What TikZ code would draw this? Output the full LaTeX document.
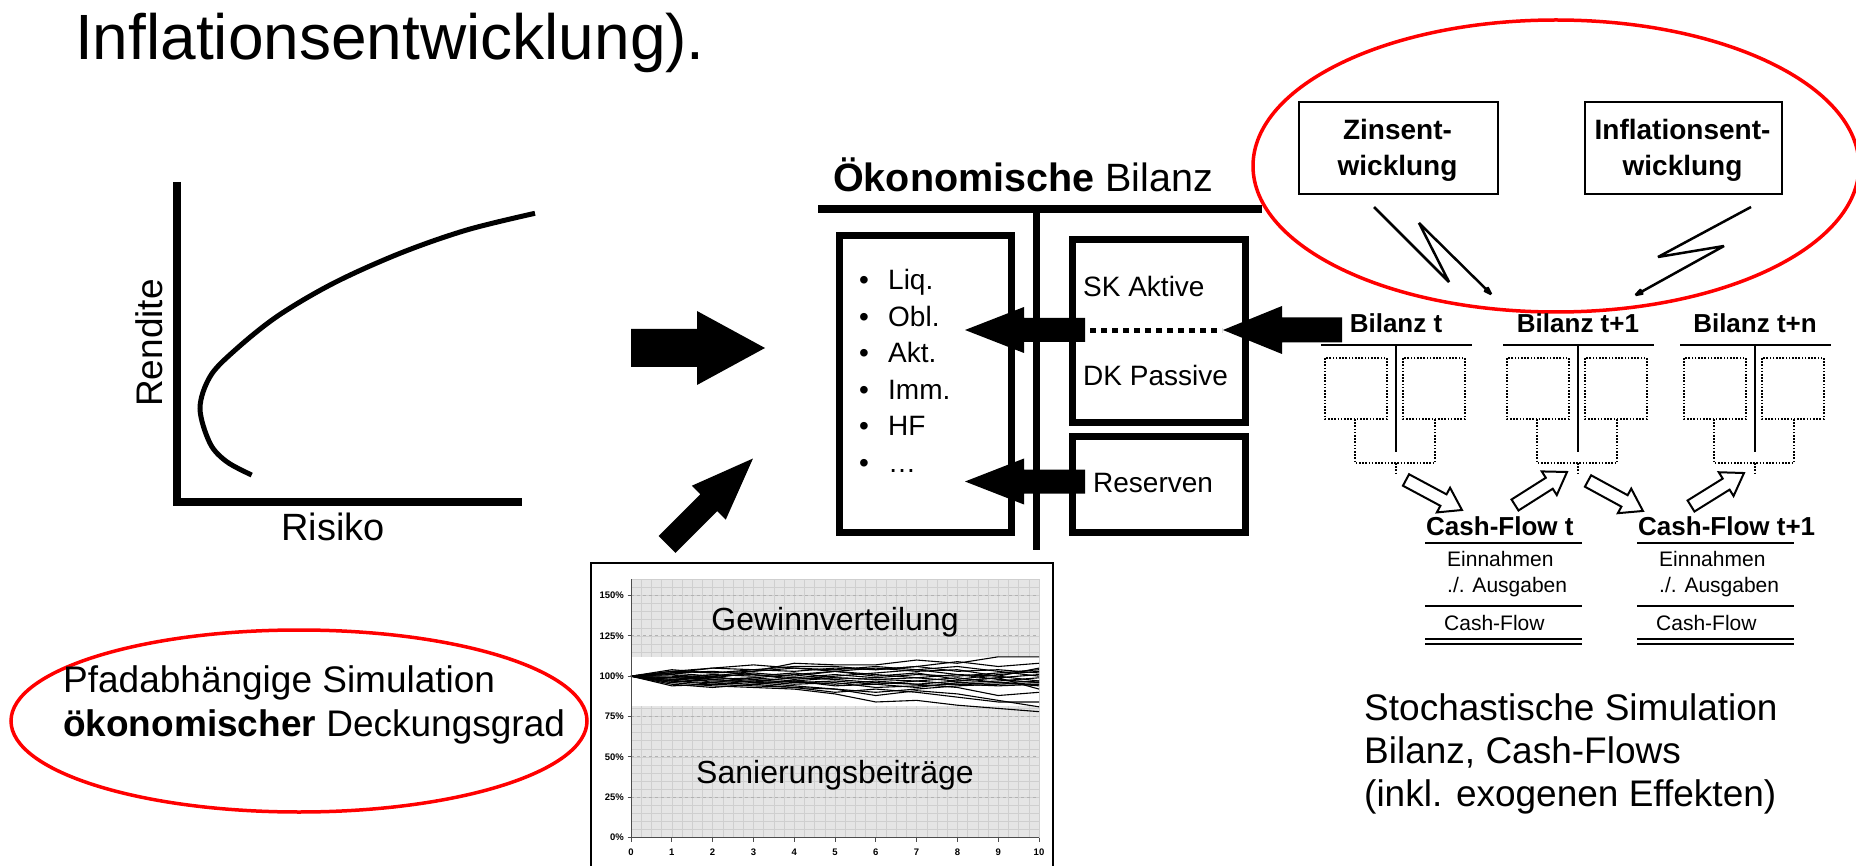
\documentclass[tikz,border=0pt]{standalone}
\usepackage{fontspec}
\setmainfont{Liberation Sans}
\usetikzlibrary{arrows.meta,calc,shapes.geometric}
\newcommand{\myfs}[1]{\fontsize{#1}{#1}\selectfont}
\tikzset{
  pics/barrow/.style n args={5}{code={
    \path[#5] (0,-#2) -- ({#1-#4},-#2) -- ({#1-#4},-#3) -- (#1,0) -- ({#1-#4},#3) -- ({#1-#4},#2) -- (0,#2) -- cycle;
  }},
  solidarr/.style={fill=black},
  openarr/.style={draw=black, fill=white, line width=2pt, line join=miter},
  txt/.style={inner sep=0pt, anchor=base west},
  ctxt/.style={inner sep=0pt, anchor=base},
  redell/.style={draw=red, line width=3.5pt, ellipse, inner sep=0pt},
  dotbox/.style={draw, line width=1.5pt, dash pattern=on 1.6pt off 1.6pt},
  tline/.style={line width=2pt},
  thickbox/.style={draw, line width=7pt, inner sep=0pt, anchor=north west},
  thinbox/.style={draw, line width=2pt, minimum height=92pt, inner sep=0pt, anchor=north west},
  lightning/.style={line width=2.5pt, line join=miter, miter limit=3, -{Stealth[length=16pt,width=10pt]}},
  simline/.style={line width=1.1pt, black, line join=round},
}
\begin{document}
\begin{tikzpicture}[x=1pt,y=-1pt]
\useasboundingbox (0,0) rectangle (1856,866);

% ---------- title fragment
\node[txt, font=\myfs{64}] (title) at (75,60) {Inflationsentwicklung).};

% ---------- risk / return diagram
\coordinate (ytop) at (177,182);
\coordinate (orig) at (177,502);
\coordinate (xend) at (522,502);
\draw[line width=8pt, line join=miter] (ytop) -- (orig) -- (xend);
\draw[line width=5pt] plot[smooth, tension=0.55] coordinates {(251.7,475) (226.7,461.7) (210,443.3) (200,408.3) (210,376.7) (233.3,351.7) (276.7,316.7) (333.3,283.3) (400,253.3) (466.7,230) (535,213.3)};
\node[ctxt, rotate=90, font=\myfs{37}] (rendite) at (162,343) {Rendite};
\node[ctxt, font=\myfs{38}] (risiko) at (333,540) {Risiko};

% ---------- big black arrows
\coordinate (ra) at (631,348);
\pic at (ra) {barrow={134}{19}{37}{68}{solidarr}};
\coordinate (da) at (667,544.5);
\pic[rotate=45] at (da) {barrow={121.6}{12}{24}{62.5}{solidarr}};

% ---------- oekonomische Bilanz
\node[txt, font=\myfs{39.5}] (obt) at (833,192) {\textbf{Ökonomische} Bilanz};
\coordinate (hl) at (818,209);
\coordinate (hr) at (1262,209);
\coordinate (vb) at (1036,550);
\coordinate (vt) at (1036,209);
\draw[line width=8pt] (hl) -- (hr);
\draw[line width=7pt] (vt) -- (vb);
\node[thickbox, minimum width=172pt, minimum height=296pt] (assets) at (835.5,232.5) {};
\node[thickbox, minimum width=173pt, minimum height=183pt] (skdk) at (1068.5,236.5) {};
\node[thickbox, minimum width=173pt, minimum height=95pt] (res) at (1068.5,433.5) {};
\foreach \t/\yy in {Liq./290, Obl./326.5, Akt./363, Imm./399.5, HF/436, …/472.5}{
  \node[ctxt, font=\myfs{28}] at (864,\yy) {•};
  \node[txt, font=\myfs{28}] at (888,\yy) {\t};
}
\node[txt, font=\myfs{28}] (ska) at (1083,297) {SK Aktive};
\node[txt, font=\myfs{28}] (dkp) at (1083,386) {DK Passive};
\node[txt, font=\myfs{28}] (rsv) at (1093,492) {Reserven};
\coordinate (dl) at (1090,331);
\coordinate (dr) at (1222,331);
\draw[line width=5pt, dash pattern=on 6pt off 5pt] (dl) -- (dr);
\coordinate (ia1) at (1085,330);
\coordinate (ia2) at (1085,481.5);
\pic[rotate=180] at (ia1) {barrow={120}{12}{23}{59}{solidarr}};
\pic[rotate=180] at (ia2) {barrow={120}{12}{23}{59}{solidarr}};
\coordinate (ba) at (1342,330);
\pic[rotate=180] at (ba) {barrow={119}{12.5}{24}{59}{solidarr}};

% ---------- top red ellipse with drivers
\node[redell, minimum width=606pt, minimum height=292pt] (ellT) at (1556,166) {};
\node[thinbox, minimum width=199pt] (zins) at (1298,101) {};
\node[thinbox, minimum width=197pt] (infl) at (1584,101) {};
\node[ctxt, font=\bfseries\myfs{28}] at (1397.5,140) {Zinsent-};
\node[ctxt, font=\bfseries\myfs{28}] at (1397.5,176) {wicklung};
\node[ctxt, font=\bfseries\myfs{28}] at (1682.5,140) {Inflationsent-};
\node[ctxt, font=\bfseries\myfs{28}] at (1682.5,176) {wicklung};
\coordinate (zs) at (1374,207);
\coordinate (z1) at (1449,282);
\coordinate (z2) at (1419,223);
\coordinate (zt) at (1494,297);
\coordinate (is) at (1751,207);
\coordinate (i1) at (1658,257);
\coordinate (i2) at (1724,246);
\coordinate (it) at (1632,297);
\draw[lightning] (zs) -- (z1) -- (z2) -- (zt);
\draw[lightning] (is) -- (i1) -- (i2) -- (it);

% ---------- Bilanz T-accounts
\foreach \cx/\lab in {1396/Bilanz t, 1578/Bilanz t+1, 1755/Bilanz t+n}{
  \node[ctxt, font=\bfseries\myfs{26}] at (\cx,333) {\lab};
  \draw[tline] (\cx-75,345) -- (\cx+76,345);
  \draw[tline] (\cx,345) -- (\cx,452);
  \draw[dotbox] (\cx-71,358) rectangle (\cx-9,419);
  \draw[dotbox] (\cx+7,358) rectangle (\cx+69,419);
  \draw[dotbox] (\cx-41,419) -- (\cx-41,463) -- (\cx+39,463) -- (\cx+39,419);
  \draw[dotbox] (\cx,463) -- (\cx,474);
}

% ---------- open arrows
\coordinate (oa1) at (1406,480);
\coordinate (oa2) at (1515,505);
\coordinate (oa3) at (1588,481);
\coordinate (oa4) at (1691,506);
\pic[rotate=-28.2] at (oa1) {barrow={63.5}{6.5}{14}{21}{openarr}};
\pic[rotate=32.4] at (oa2) {barrow={61.6}{6.5}{14}{21}{openarr}};
\pic[rotate=-28.6] at (oa3) {barrow={62.6}{6.5}{14}{21}{openarr}};
\pic[rotate=31.9] at (oa4) {barrow={62.4}{6.5}{14}{21}{openarr}};

% ---------- Cash-Flow statements
\foreach \x/\lab in {1425/Cash-Flow t, 1637/Cash-Flow t+1}{
  \node[txt, font=\bfseries\myfs{26}] at (\x+1,535) {\lab};
  \draw[tline] (\x,543) -- (\x+157,543);
  \node[txt, font=\myfs{21}] at (\x+22,566) {Einnahmen};
  \node[txt, font=\myfs{21}] at (\x+22,592) {./. Ausgaben};
  \draw[tline] (\x,606) -- (\x+157,606);
  \node[txt, font=\myfs{21}] at (\x+19,630) {Cash-Flow};
  \draw[tline] (\x,639) -- (\x+157,639);
  \draw[tline] (\x,644) -- (\x+157,644);
}

% ---------- bottom right text
\node[txt, font=\myfs{37}] (st1) at (1364,720) {Stochastische Simulation};
\node[txt, font=\myfs{37}] (st2) at (1364,763) {Bilanz, Cash-Flows};
\node[txt, font=\myfs{37}] (st3) at (1364,806) {(inkl. exogenen Effekten)};

% ---------- left red ellipse
\node[redell, minimum width=576pt, minimum height=182pt] (ellL) at (299,721) {};
\node[txt, font=\myfs{37}] (pf1) at (63,692) {Pfadabhängige Simulation};
\node[txt, font=\myfs{37}] (pf2) at (63,736) {\textbf{ökonomischer} Deckungsgrad};

% ---------- simulation chart
\draw[line width=1.3pt] (591,563) rectangle (1053,868);
\begin{scope}[shift={(631,837.5)}, x=40.8pt, y=1.6133pt]
  \fill[gray!20] (0,0) rectangle (10,160);
  \draw[gray!38, line width=0.5pt, xstep=0.25, ystep=5] (0,0) grid (10,160);
  \foreach \v in {25,50,...,150}{
    \draw[gray!60, dashed, line width=0.7pt] (0,\v) -- (10,\v);
  }
  \fill[white] (0,81.5) rectangle (10,112);
  \foreach \vals in {
    {104,102,103,108,107,107,110,108,112,112},
    {102,105,104,106,106,104,106,109,106,108},
    {98,100,103,105,103,105,103,104,100,105},
    {97,96,99,101,103,100,102,98,101,103},
    {96,94,93,92,89,84,85,82,80,78},
    {99,98,96,94,92,90,92,94,95,96},
    {101,99,98,96,97,95,93,96,97,99},
    {97,95,94,93,92,88,91,89,85,81},
    {102,103,101,98,100,102,104,101,98,96},
    {95,93,95,97,95,97,95,93,88,90},
    {99,101,100,102,99,98,97,99,96,97},
    {103,102,104,103,105,104,106,103,104,102},
    {98,97,97,95,96,93,94,95,94,95},
    {101,96,95,93,90,92,90,87,84,84},
    {96,99,102,100,103,101,99,97,99,101},
    {103,105,107,105,104,106,104,106,103,100},
    {94,95,97,99,98,96,95,97,99,92},
    {100,98,99,97,94,95,97,95,96,94},
    {102,100,96,97,99,98,99,101,100,97},
    {97,100,101,99,101,99,101,100,102,104}}{
    \draw[simline] (0,100) \foreach \v [count=\i] in \vals {-- (\i,\v)};
  }
  \draw[gray!60!black, line width=0.9pt] (0,160) -- (0,0) -- (10,0);
  \foreach \v in {0,25,...,150}{
    \draw[gray!60!black, line width=0.8pt] (-0.08,\v) -- (0,\v);
    \node[anchor=east, inner sep=0pt, font=\bfseries\myfs{9.5}] at (-0.17,\v) {\v\%};
  }
  \foreach \i in {0,...,10}{
    \draw[gray!60!black, line width=0.8pt] (\i,0) -- (\i,-2.5);
    \node[font=\bfseries\myfs{9.5}, inner sep=0pt] at (\i,-9) {\i};
  }
\end{scope}
\node[ctxt, font=\myfs{32}] (gew) at (835,630) {Gewinnverteilung};
\node[ctxt, font=\myfs{32}] (san) at (835,783) {Sanierungsbeiträge};

\end{tikzpicture}
\end{document}
